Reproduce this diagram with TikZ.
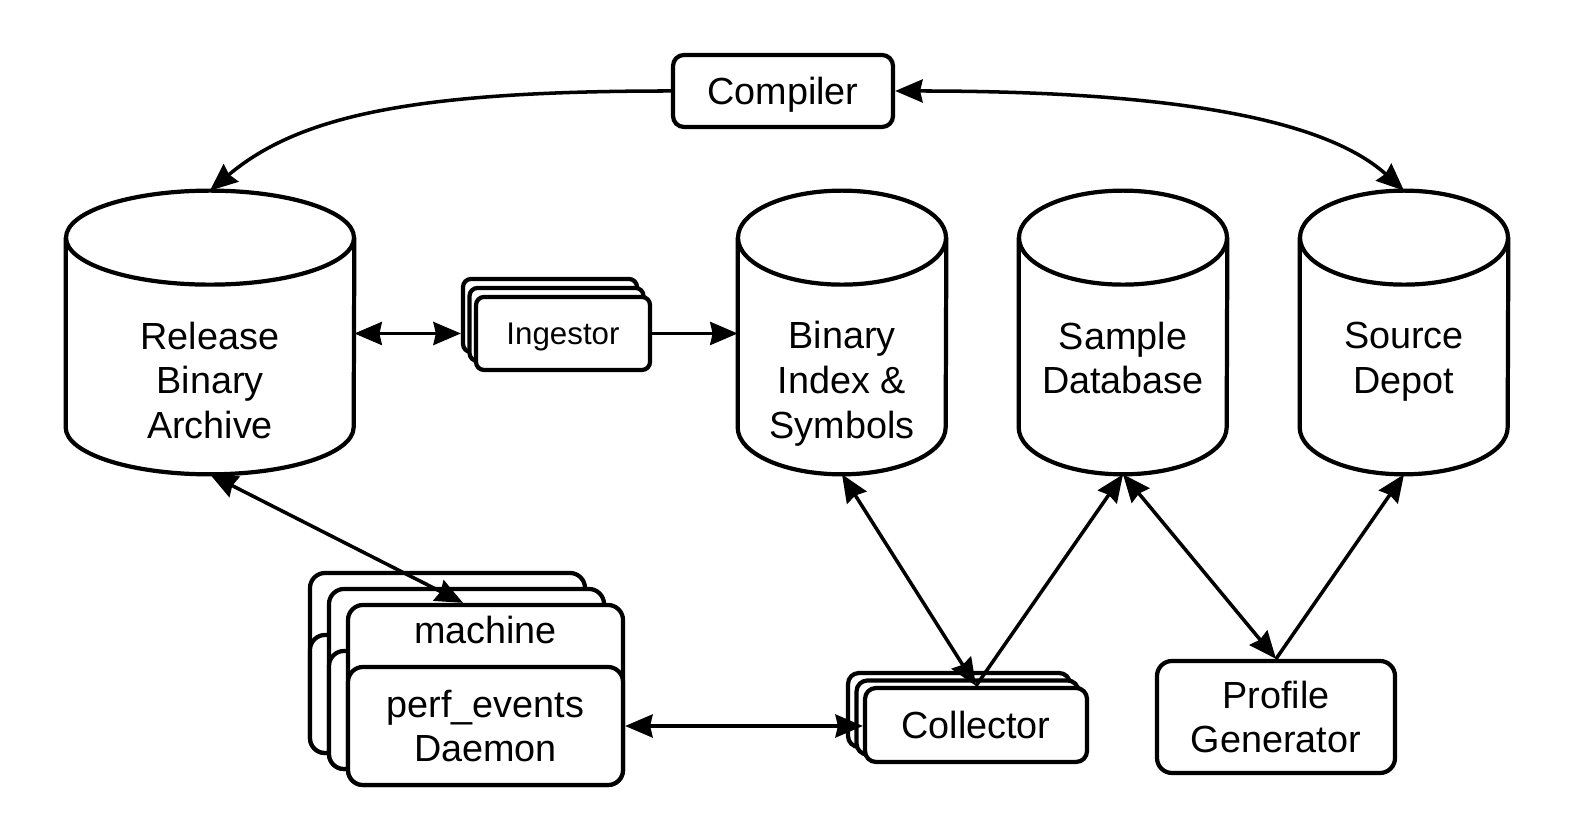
\documentclass[tikz,border=0pt]{standalone}
\usepackage{fontspec}
\setmainfont{Liberation Sans}
\usepackage{tikz}
\usetikzlibrary{arrows.meta}

\tikzset{
  box/.style={draw, line width=2.4pt, fill=white, rounded corners=0.22cm, inner sep=0pt,
    font=\fontsize{21.5}{25.5}\selectfont, align=center},
  dbframe/.style={minimum height=5.66cm, inner sep=0pt},
  dbline/.style={line width=2.4pt},
  lbl/.style={font=\fontsize{21.5}{25.5}\selectfont, align=center},
  link/.style={line width=2pt}
}

\begin{document}
\begin{tikzpicture}[>={Stealth[length=0.55cm, width=0.46cm, inset=0.05cm]}]
	\useasboundingbox (0,0) rectangle (31.76,16.58);
	\node[box, text depth=0pt, minimum width=4.4cm, minimum height=1.44cm] (comp) at (15.66,14.76) {Compiler};
	\node[dbframe, minimum width=5.76cm] (rba) at (4.2,9.93) {};
	\node[dbframe, minimum width=4.16cm] (bis) at (16.84,9.93) {};
	\node[dbframe, minimum width=4.16cm] (sdb) at (22.46,9.93) {};
	\node[dbframe, minimum width=4.16cm] (src) at (28.08,9.93) {};
	\foreach \n/\r in {rba/2.88, bis/2.08, sdb/2.08, src/2.08} {
	  \draw[dbline] ([yshift=-0.94cm]\n.north) ellipse [x radius=\r, y radius=0.94];
	  \draw[dbline] ([yshift=-0.94cm]\n.north west) -- ([yshift=0.94cm]\n.south west)
	    arc [start angle=180, end angle=360, x radius=\r, y radius=0.94] -- ([yshift=-0.94cm]\n.north east);
	}
	\node[lbl] (rbatxt) at (4.2,8.97) {Release\\Binary\\Archive};
	\node[lbl] (bistxt) at (16.84,8.9) {Binary\\Index \&\\Symbols};
	\node[lbl] (sdbtxt) at (22.46,9.42) {Sample\\Database};
	\node[lbl] (srctxt) at (28.08,9.35) {Source\\Depot};
	\foreach \i in {2,1,0}
	  \node[box, rounded corners=0.16cm, minimum width=3.48cm, minimum height=1.46cm] (ing\i) at ({11.26-0.13*\i},{9.91+0.18*\i}) {};
	\node[font=\fontsize{17.8}{20}\selectfont, text depth=0pt] (ingtxt) at (ing0) {Ingestor};
	\foreach \i in {2,1,0} {
	  \node[box, rounded corners=0.3cm, minimum width=5.5cm, minimum height=3.6cm] (mach\i) at ({9.71-0.38*\i},{2.68+0.32*\i}) {};
	  \node[box, rounded corners=0.3cm, minimum width=5.5cm, minimum height=2.36cm] (daemon\i) at ({9.71-0.38*\i},{2.06+0.32*\i}) {};
	}
	\node[lbl] (machtxt) at (9.71,3.98) {machine};
	\node[lbl] (daemontxt) at (daemon0) {perf\_events\\Daemon};
	\foreach \i in {2,1,0}
	  \node[box, minimum width=4.44cm, minimum height=1.48cm] (col\i) at ({19.52-0.17*\i},{2.08+0.15*\i}) {};
	\node[lbl] (coltxt) at (col0) {Collector};
	\node[box, rounded corners=0.3cm, minimum width=4.76cm, minimum height=2.24cm] (pg) at (25.52,2.24) {Profile\\Generator};
	\draw[link, ->] (comp.west) .. controls +(-5.06,0) and +(1.8,1.52) .. (rba.north);
	\draw[link, <->] (comp.east) .. controls +(5.14,0) and +(-1.68,1.52) .. (src.north);
	\draw[link, <->] (rba.east |- ing0) -- (ing2.west |- ing0);
	\draw[link, ->] (ing0.east) -- (bis.west |- ing0.east);
	\draw[link, <->] (rba.south) -- ([xshift=-0.45cm]mach0.north);
	\draw[link, <->] (daemon0.east) -- (col0.west |- daemon0.east);
	\draw[link, <->] (bis.south) -- (col0.north);
	\draw[link, ->] (col0.north) -- (sdb.south);
	\draw[link, <->] (sdb.south) -- (pg.north);
	\draw[link, ->] (pg.north) -- (src.south);
\end{tikzpicture}
\end{document}
